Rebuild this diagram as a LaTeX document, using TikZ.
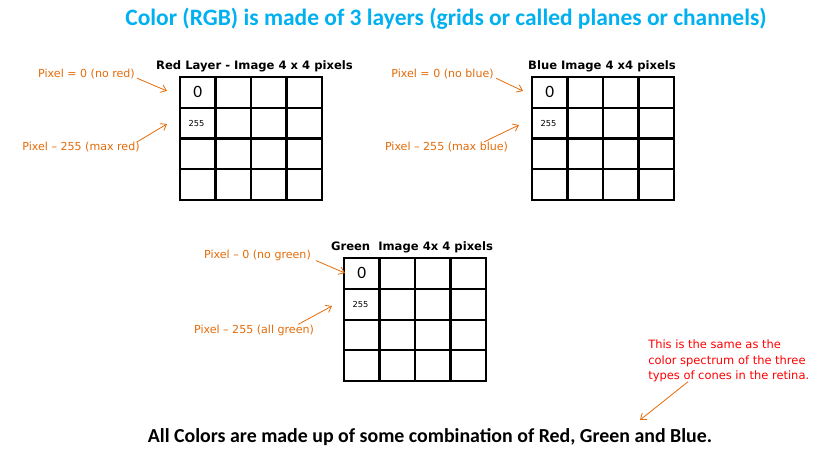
\documentclass[tikz,border=0pt]{standalone}
\usepackage{fontspec}
\setmainfont{Carlito}
\newfontfamily\labelfont{DejaVu Sans}
\usetikzlibrary{arrows.meta,positioning}
\definecolor{titleblue}{RGB}{0,176,240}
\definecolor{notered}{RGB}{255,0,0}
\definecolor{pxorange}{RGB}{228,108,10}

\begin{document}
\begin{tikzpicture}[x=0.75pt, y=-0.75pt,
    every node/.style={inner sep=0pt},
    cell/.style={draw, line width=1.5pt, minimum width=26.6pt, minimum height=23.06pt, outer sep=0pt},
    gridtitle/.style={font=\labelfont\bfseries\fontsize{8.7}{10}\selectfont},
    pxlabel/.style={font=\labelfont\fontsize{8.3}{9}\selectfont, text=pxorange},
    pxarrow/.style={-{Straight Barb[length=4pt, width=6pt]}, pxorange, line width=0.6pt},
]
\useasboundingbox[fill=white] (0,0) rectangle (824,449);

% heading and footer
\node[font=\bfseries\fontsize{17.6}{20}\selectfont, text=titleblue] (heading) at (446,19) {Color (RGB) is made of 3 layers (grids or called planes or channels)};
\node[font=\bfseries\fontsize{14.9}{17}\selectfont] (footer) at (430,437) {All Colors are made up of some combination of Red, Green and Blue.};

% the three 4x4 layers
\foreach \lay/\gx/\gy in {red/180/77, blue/532/77, green/344/258} {
    \foreach \r in {0,...,3}
        \foreach \c in {0,...,3}
            \node[cell] (\lay-\r-\c) at ({\gx+35.5*(\c+0.5)}, {\gy+30.75*(\r+0.5)}) {};
    \node[font=\fontsize{13}{14}\selectfont] (\lay-zero) at (\lay-0-0) {0};
    \node[font=\labelfont\fontsize{6.2}{7}\selectfont] (\lay-full) at ([xshift=-1pt]\lay-1-0) {255};
}

\node[gridtitle] (red-title) at (254.5,66) {Red Layer - Image 4 x 4 pixels};
\node[gridtitle] (blue-title) at (602,66) {Blue Image 4 x4 pixels};
\node[gridtitle] (green-title) at (412,247) {Green\ \ Image 4x 4 pixels};

% orange pointers
\node[pxlabel] (red-lo) at (86.5,74) {Pixel = 0 (no red)};
\node[pxlabel] (red-hi) at (81,147) {Pixel – 255 (max red)};
\node[pxlabel] (blue-lo) at (442.5,74) {Pixel = 0 (no blue)};
\node[pxlabel] (blue-hi) at (446.5,147) {Pixel – 255 (max blue)};
\node[pxlabel] (green-lo) at (257.5,255) {Pixel – 0 (no green)};
\node[pxlabel] (green-hi) at (254,330) {Pixel – 255 (all green)};

\coordinate (red-lo-tip) at (167,91);
\coordinate (red-hi-tip) at (167,124);
\coordinate (blue-lo-tip) at (523,91);
\coordinate (blue-hi-tip) at (519,125);
\coordinate (green-lo-tip) at (345,273);
\coordinate (green-hi-tip) at (332,306);

\draw[pxarrow] ([shift={(2,-1)}]red-lo.south east) -- (red-lo-tip);
\draw[pxarrow] ([xshift=-2]red-hi.north east) -- (red-hi-tip);
\draw[pxarrow] ([shift={(2,-1)}]blue-lo.south east) -- (blue-lo-tip);
\draw[pxarrow] ([xshift=-18]blue-hi.north east) -- (blue-hi-tip);
\draw[pxarrow] ([shift={(5,0)}]green-lo.south east) -- (green-lo-tip);
\draw[pxarrow] ([xshift=-12]green-hi.north east) -- (green-hi-tip);

% note on the cones
\node[font=\labelfont\fontsize{8.6}{11.3}\selectfont, text=notered, align=left, anchor=north west] (cones) at (648,340) {This is the same as the\\color spectrum of the three\\types of cones in the retina.};
\coordinate (cones-tip) at (640,420);
\draw[pxarrow] ([xshift=30]cones.south west) -- (cones-tip);
\end{tikzpicture}
\end{document}
